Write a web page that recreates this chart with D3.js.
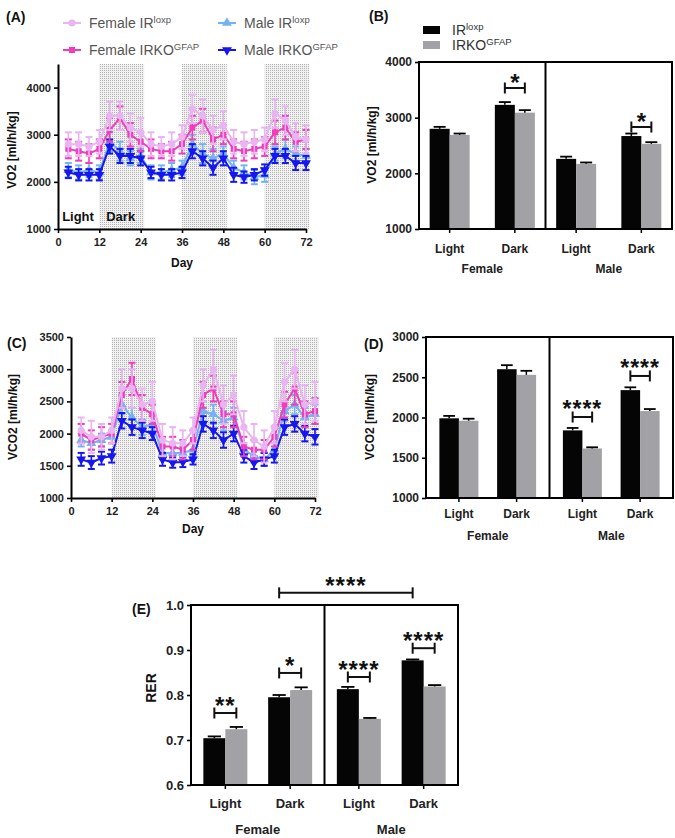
<!DOCTYPE html>
<html><head><meta charset="utf-8">
<script src="https://cdn.jsdelivr.net/npm/d3@7"></script>
<style>body{margin:0;background:#fff} svg{display:block}</style>
</head><body><svg id="c" width="675" height="838"></svg>
<script>
// ---------- DATA ----------
const hours = [3,6,9,12,15,18,21,24,27,30,33,36,39,42,45,48,51,54,57,60,63,66,69,72];
const dayTicks = [0,12,24,36,48,60,72];
const shadeStart = [12,36,60];
const shadeEnd = [25,49,73];

const vo2FemaleLoxp    = [2800,2800,2750,2850,3400,3400,3150,3050,2800,2750,2800,2950,3550,3400,3100,3200,2850,2800,2850,2900,3450,3300,2950,2900];
const vo2FemaleLoxpErr = [250,250,200,250,300,300,300,300,250,200,250,250,300,350,300,300,250,250,250,250,300,300,300,300];
const vo2FemaleKO      = [2700,2650,2600,2700,3100,3350,3000,2850,2700,2650,2650,2800,3150,3300,2900,3000,2700,2650,2700,2750,3050,3150,2850,2900];
const vo2FemaleKOErr   = [200,200,200,200,250,250,250,200,200,150,200,200,250,250,250,200,200,200,200,200,250,250,200,200];
const vo2MaleLoxp      = [2250,2200,2250,2200,2850,2650,2500,2550,2200,2200,2250,2300,2800,2600,2500,2600,2300,2200,2100,2150,2600,2700,2600,2550];
const vo2MaleLoxpErr   = [150,150,150,150,200,200,150,150,150,150,150,150,200,200,200,150,150,150,150,150,150,200,150,150];
const vo2MaleKO        = [2200,2150,2150,2150,2750,2550,2550,2500,2200,2150,2150,2200,2650,2500,2300,2500,2150,2100,2150,2250,2550,2550,2400,2400];
const vo2MaleKOErr     = [120,120,120,120,150,150,150,150,120,120,120,120,150,150,150,150,150,120,120,120,150,150,150,150];

const vco2FemaleLoxp    = [2050,1950,1950,2050,2700,2700,2450,2500,1900,1850,1850,2050,2750,3000,2450,2600,2100,1900,1800,2100,2800,3000,2450,2500];
const vco2FemaleLoxpErr = [200,250,200,200,300,300,250,300,250,250,200,200,250,300,300,300,250,250,250,250,300,300,300,300];
const vco2FemaleKO      = [2000,1900,1950,2000,2600,2850,2400,2300,1800,1800,1750,1900,2600,2700,2300,2300,1800,1750,1750,1950,2450,2700,2300,2350];
const vco2FemaleKOErr   = [150,150,150,150,200,250,200,150,150,150,150,150,200,200,200,200,150,150,150,150,200,250,200,200];
const vco2MaleLoxp      = [1900,1850,1900,1950,2450,2250,2100,2150,1700,1700,1700,1750,2350,2300,2200,2250,1750,1650,1600,1750,2350,2450,2250,2300];
const vco2MaleLoxpErr   = [100,100,100,100,150,150,120,120,100,100,100,100,150,150,150,150,100,100,100,100,150,150,150,150];
const vco2MaleKO        = [1600,1550,1620,1650,2200,2100,2050,2000,1600,1550,1560,1600,2150,2050,1900,2000,1650,1550,1600,1650,2100,2150,2000,1950];
const vco2MaleKOErr     = [100,100,100,100,120,120,120,100,100,80,80,80,120,120,120,120,100,100,100,100,120,120,120,120];

const sexes = ["Female","Male"];
const periods = ["Light","Dark"];
const genotypes = ["IRloxp","IRKOGFAP"];
// order: Female Light, Female Dark, Male Light, Male Dark
const vo2BarLoxp   = [2800,3230,2260,2670];
const vo2BarLoxpErr= [35,50,40,45];
const vo2BarKO     = [2690,3090,2170,2530];
const vo2BarKOErr  = [25,45,25,30];
const vco2BarLoxp   = [1990,2600,1840,2340];
const vco2BarLoxpErr= [30,50,30,35];
const vco2BarKO     = [1960,2530,1615,2080];
const vco2BarKOErr  = [25,50,15,25];
const rerBarLoxp   = [0.704,0.795,0.813,0.877];
const rerBarLoxpErr= [0.004,0.005,0.005,0.002];
const rerBarKO     = [0.724,0.811,0.747,0.819];
const rerBarKOErr  = [0.005,0.006,0.002,0.003];

const vo2Sig  = [{sex:"Female",period:"Dark",y:3533,label:"*"},{sex:"Male",period:"Dark",y:2832,label:"*"}];
const vco2Sig = [{sex:"Male",period:"Light",y:2006,label:"****"},{sex:"Male",period:"Dark",y:2516,label:"****"}];
const rerSig  = [{sex:"Female",period:"Light",y:0.76,label:"**"},{sex:"Female",period:"Dark",y:0.849,label:"*"},
                 {sex:"Male",period:"Light",y:0.84,label:"****"},{sex:"Male",period:"Dark",y:0.904,label:"****"}];
const rerCross = {from:{sex:"Female",period:"Dark"},to:{sex:"Male",period:"Dark"},y:1.027,label:"****"};

// ---------- DRAW ----------
const FONT = '"Liberation Sans", Arial, sans-serif';
const svg = d3.select("#c");
const defs = svg.append("defs");
const pat = defs.append("pattern").attr("id","dots").attr("width",2).attr("height",2).attr("patternUnits","userSpaceOnUse");
pat.append("rect").attr("width",2).attr("height",2).attr("fill","#f1f1f1");
pat.append("rect").attr("width",1).attr("height",1).attr("fill","#b3b3b3");

const COL = {fLoxp:"#e8b4f2", fKO:"#f23bbd", mLoxp:"#74b3f2", mKO:"#1616ee", black:"#050505", gray:"#a2a2a6"};

function txt(g,x,y,s,size,weight,anchor,fill){
  return g.append("text").attr("x",x).attr("y",y).text(s).attr("font-family",FONT)
    .attr("font-size",size).attr("font-weight",weight||"normal").attr("text-anchor",anchor||"start").attr("fill",fill||"#111");
}
function supTxt(g,x,y,main,sup,size,fill){
  const t = g.append("text").attr("x",x).attr("y",y).attr("font-family",FONT).attr("font-size",size).attr("fill",fill);
  t.append("tspan").text(main);
  t.append("tspan").text(sup).attr("font-size",size*0.68).attr("dy",-size*0.38);
  return t;
}
function styleAxis(g,size){
  g.selectAll("path.domain").attr("stroke","#000").attr("stroke-width",2);
  g.selectAll(".tick line").attr("stroke","#000").attr("stroke-width",1.6);
  g.selectAll(".tick text").attr("font-family",FONT).attr("font-weight","bold").attr("font-size",size).attr("fill","#222");
}
function symPath(kind){
  if(kind==="circle") return d3.symbol(d3.symbolCircle,40)();
  if(kind==="square") return d3.symbol(d3.symbolSquare,36)();
  return d3.symbol(d3.symbolTriangle,42)();
}

function linePanel(c){
  const x = d3.scaleLinear().domain([0,72]).range([c.x0,c.x1]);
  const y = d3.scaleLinear().domain(c.yDomain).range([c.y1,c.y0]);
  const g = svg.append("g");
  shadeStart.forEach((s,i)=>{
    g.append("rect").attr("x",x(s)).attr("y",c.y0).attr("width",x(shadeEnd[i])-x(s)).attr("height",c.y1-c.y0).attr("fill","url(#dots)");
  });
  c.series.forEach(s=>{
    const pts = hours.map((h,i)=>({h:h,v:s.v[i],e:s.e[i]}));
    const sg = g.append("g");
    pts.forEach(p=>{
      const xx=x(p.h), ya=y(p.v-p.e), yb=y(p.v+p.e);
      sg.append("line").attr("x1",xx).attr("x2",xx).attr("y1",ya).attr("y2",yb).attr("stroke",s.color).attr("stroke-width",1.6);
      [ya,yb].forEach(yy=>sg.append("line").attr("x1",xx-3.5).attr("x2",xx+3.5).attr("y1",yy).attr("y2",yy).attr("stroke",s.color).attr("stroke-width",2));
    });
    sg.append("path").datum(pts).attr("d",d3.line().x(d=>x(d.h)).y(d=>y(d.v)))
      .attr("fill","none").attr("stroke",s.color).attr("stroke-width",2);
    sg.selectAll("path.m").data(pts).join("path").attr("class","m").attr("d",symPath(s.sym))
      .attr("transform",d=>`translate(${x(d.h)},${y(d.v)})${s.down?" rotate(180)":""}`).attr("fill",s.color);
  });
  const ax = g.append("g").attr("transform",`translate(0,${c.y1})`)
    .call(d3.axisBottom(x).tickValues(dayTicks).tickSize(4).tickSizeOuter(0).tickPadding(5));
  styleAxis(ax,11);
  const ay = g.append("g").attr("transform",`translate(${c.x0},0)`)
    .call(d3.axisLeft(y).tickValues(c.yTicks).tickSize(4).tickSizeOuter(0).tickPadding(3).tickFormat(d3.format("d")));
  styleAxis(ay,11);
  txt(g,x(36),c.dayY,"Day",12,"bold","middle");
  txt(g,0,0,c.ylabel,12,"bold","middle").attr("transform",`translate(${c.ylX},${c.ylY}) rotate(-90)`);
  txt(g,c.tX,c.tY,c.title,14,"bold","start");
  return {x,y,g};
}

// Panel A
const seriesA = [
  {v:vo2MaleLoxp,e:vo2MaleLoxpErr,color:COL.mLoxp,sym:"tri"},
  {v:vo2MaleKO,e:vo2MaleKOErr,color:COL.mKO,sym:"tri",down:true},
  {v:vo2FemaleKO,e:vo2FemaleKOErr,color:COL.fKO,sym:"square"},
  {v:vo2FemaleLoxp,e:vo2FemaleLoxpErr,color:COL.fLoxp,sym:"circle"}
];
const pA = linePanel({x0:58,x1:306,y0:64,y1:229,yDomain:[1000,4500],yTicks:[1000,2000,3000,4000],series:seriesA,
  dayY:267,ylabel:"VO2 [ml/h/kg]",ylX:16,ylY:150,title:"(A)",tX:6,tY:22});
txt(pA.g,pA.x(1.2),221,"Light",13,"bold","start");
txt(pA.g,pA.x(14),221,"Dark",13,"bold","start");

// Legend A
const legendItems = [
  {name:"Female IR",sup:"loxp",color:COL.fLoxp,sym:"circle",col:0,row:0},
  {name:"Male IR",sup:"loxp",color:COL.mLoxp,sym:"tri",col:1,row:0},
  {name:"Female IRKO",sup:"GFAP",color:COL.fKO,sym:"square",col:0,row:1},
  {name:"Male IRKO",sup:"GFAP",color:COL.mKO,sym:"tri",down:true,col:1,row:1}
];
const lg = svg.append("g");
legendItems.forEach(it=>{
  const mx = it.col===0?72:227, my = it.row===0?23:50;
  lg.append("line").attr("x1",mx-9).attr("x2",mx+9).attr("y1",my).attr("y2",my).attr("stroke",it.color).attr("stroke-width",2);
  lg.append("path").attr("d",symPath(it.sym)).attr("transform",`translate(${mx},${my})${it.down?" rotate(180)":""}`).attr("fill",it.color);
  supTxt(lg,mx+17,my+5,it.name,it.sup,14,"#555");
});

// Panel C
const seriesC = [
  {v:vco2MaleLoxp,e:vco2MaleLoxpErr,color:COL.mLoxp,sym:"tri"},
  {v:vco2MaleKO,e:vco2MaleKOErr,color:COL.mKO,sym:"tri",down:true},
  {v:vco2FemaleKO,e:vco2FemaleKOErr,color:COL.fKO,sym:"square"},
  {v:vco2FemaleLoxp,e:vco2FemaleLoxpErr,color:COL.fLoxp,sym:"circle"}
];
linePanel({x0:71,x1:315,y0:337,y1:498,yDomain:[1000,3500],yTicks:[1000,1500,2000,2500,3000,3500],series:seriesC,
  dayY:533,ylabel:"VCO2 [ml/h/kg]",ylX:17,ylY:417,title:"(C)",tX:7,tY:348});

// Bar panels
function barPanel(c){
  const g = svg.append("g");
  const y = d3.scaleLinear().domain(c.domain).range([c.y1,c.y0]);
  const outer = d3.scaleBand().domain(sexes).range([c.x0,c.x1]).paddingInner(0);
  const inner = d3.scalePoint().domain(periods).range([0,outer.bandwidth()]).padding(c.pad);
  const geno = d3.scaleBand().domain(genotypes).range([-c.barW,c.barW]);
  const cx = (sex,per)=>outer(sex)+inner(per);
  const rows = [];
  sexes.forEach((s,si)=>periods.forEach((p,pi)=>{
    const i = si*2+pi;
    rows.push({sex:s,per:p,geno:genotypes[0],v:c.loxp[i],e:c.loxpErr[i],fill:COL.black});
    rows.push({sex:s,per:p,geno:genotypes[1],v:c.ko[i],e:c.koErr[i],fill:COL.gray});
  }));
  rows.forEach(r=>{
    const bx = cx(r.sex,r.per)+geno(r.geno);
    g.append("rect").attr("x",bx).attr("y",y(r.v)).attr("width",geno.bandwidth()).attr("height",y(c.domain[0])-y(r.v)).attr("fill",r.fill);
    const mx = bx+geno.bandwidth()/2;
    g.append("line").attr("x1",mx).attr("x2",mx).attr("y1",y(r.v)).attr("y2",y(r.v+r.e)).attr("stroke","#000").attr("stroke-width",1.5);
    g.append("line").attr("x1",mx-geno.bandwidth()*0.3).attr("x2",mx+geno.bandwidth()*0.3).attr("y1",y(r.v+r.e)).attr("y2",y(r.v+r.e)).attr("stroke","#000").attr("stroke-width",1.8);
  });
  g.append("rect").attr("x",c.x0).attr("y",c.y0).attr("width",c.x1-c.x0).attr("height",c.y1-c.y0).attr("fill","none").attr("stroke","#000").attr("stroke-width",2);
  g.append("line").attr("x1",outer("Male")).attr("x2",outer("Male")).attr("y1",c.y0).attr("y2",c.y1).attr("stroke","#000").attr("stroke-width",2);
  const ay = g.append("g").attr("transform",`translate(${c.x0},0)`)
    .call(d3.axisLeft(y).tickValues(c.ticks).tickSize(4).tickSizeOuter(0).tickPadding(3).tickFormat(c.fmt));
  styleAxis(ay,c.tickSize);
  ay.select("path.domain").remove();
  sexes.forEach(s=>{
    periods.forEach(p=>{
      const xx = cx(s,p);
      g.append("line").attr("x1",xx).attr("x2",xx).attr("y1",c.y1).attr("y2",c.y1+4).attr("stroke","#000").attr("stroke-width",1.5);
      txt(g,xx,c.perY,p,c.labSize,"bold","middle","#222");
    });
    txt(g,outer(s)+outer.bandwidth()/2,c.sexY,s,c.labSize,"bold","middle","#222");
  });
  // significance
  const bracket=(x1,x2,yy,label,off)=>{
    const yp=y(yy);
    g.append("line").attr("x1",x1).attr("x2",x2).attr("y1",yp).attr("y2",yp).attr("stroke","#111").attr("stroke-width",2);
    [x1,x2].forEach(xx=>g.append("line").attr("x1",xx).attr("x2",xx).attr("y1",yp-5.5).attr("y2",yp+5.5).attr("stroke","#111").attr("stroke-width",2));
    txt(g,(x1+x2)/2,yp+off,label,c.starSize,"bold","middle","#111").attr("letter-spacing",c.starSpace);
  };
  c.sig.forEach(s=>{
    const a = cx(s.sex,s.period)+geno(genotypes[0])+geno.bandwidth()/2;
    const b = cx(s.sex,s.period)+geno(genotypes[1])+geno.bandwidth()/2;
    bracket(a,b,s.y,s.label,c.starOff);
  });
  if(c.cross){
    const a = cx(c.cross.from.sex,c.cross.from.period)+geno(genotypes[0])+geno.bandwidth()/2;
    const b = cx(c.cross.to.sex,c.cross.to.period)+geno(genotypes[0])+geno.bandwidth()/2;
    bracket(a,b,c.cross.y,c.cross.label,c.starOff);
  }
  txt(g,0,0,c.ylabel,c.ylSize,"bold","middle","#111").attr("transform",`translate(${c.ylX},${c.ylY}) rotate(-90)`);
  txt(g,c.tX,c.tY,c.title,14,"bold","start");
  return g;
}

const gB = barPanel({x0:419,x1:672,y0:62,y1:229,domain:[1000,4000],ticks:[1000,2000,3000,4000],fmt:d3.format("d"),
  pad:0.47,barW:20,loxp:vo2BarLoxp,loxpErr:vo2BarLoxpErr,ko:vo2BarKO,koErr:vo2BarKOErr,sig:vo2Sig,
  perY:253,sexY:273,tickSize:12,labSize:12,starSize:24,starSpace:0,starOff:3,
  ylabel:"VO2 [ml/h/kg]",ylX:376,ylY:145,ylSize:12,title:"(B)",tX:369,tY:21});
// Legend B
gB.append("rect").attr("x",423).attr("y",26).attr("width",17).attr("height",8).attr("fill",COL.black);
supTxt(gB,452,35,"IR","loxp",14,"#333");
gB.append("rect").attr("x",423).attr("y",41).attr("width",17).attr("height",8).attr("fill",COL.gray);
supTxt(gB,452,50,"IRKO","GFAP",14,"#333");

barPanel({x0:426,x1:673,y0:337,y1:498,domain:[1000,3000],ticks:[1000,1500,2000,2500,3000],fmt:d3.format("d"),
  pad:0.57,barW:19.5,loxp:vco2BarLoxp,loxpErr:vco2BarLoxpErr,ko:vco2BarKO,koErr:vco2BarKOErr,sig:vco2Sig,
  perY:518,sexY:540,tickSize:12,labSize:12,starSize:23,starSpace:1,starOff:0,
  ylabel:"VCO2 [ml/h/kg]",ylX:374,ylY:417,ylSize:12,title:"(D)",tX:364,tY:349});

barPanel({x0:191,x1:458,y0:605,y1:785,domain:[0.6,1.0],ticks:[0.6,0.7,0.8,0.9,1.0],fmt:d3.format(".1f"),
  pad:0.53,barW:22,loxp:rerBarLoxp,loxpErr:rerBarLoxpErr,ko:rerBarKO,koErr:rerBarKOErr,sig:rerSig,cross:rerCross,
  perY:808,sexY:834,tickSize:13,labSize:13,starSize:24,starSpace:1,starOff:1,
  ylabel:"RER",ylX:156,ylY:688,ylSize:14,title:"(E)",tX:132,tY:614});
</script></body></html>
